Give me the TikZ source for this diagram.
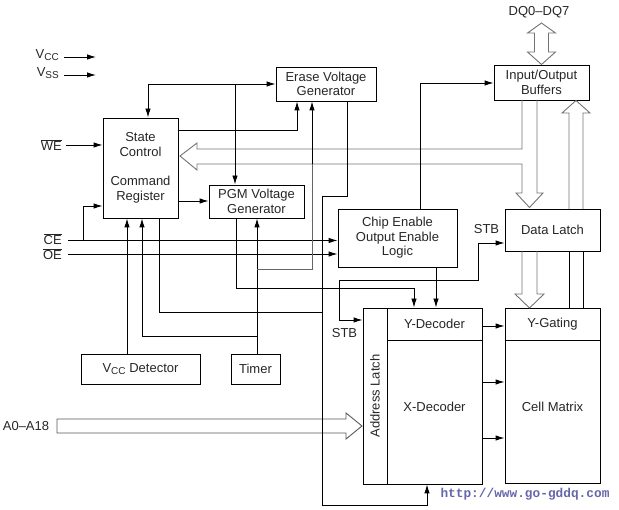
\documentclass[tikz,border=0pt]{standalone}
\usepackage{fontspec}
\setmainfont{Liberation Sans}
\newfontfamily\wmfont{Liberation Mono}
\usetikzlibrary{arrows.meta}
\newcommand{\mysub}[1]{\raisebox{-2.6pt}{\fontsize{10}{10}\selectfont #1}}
\begin{document}
\begin{tikzpicture}[x=1pt,y=-1pt,
  font=\fontsize{13}{14.5}\selectfont,
  box/.style={draw, line width=0.9pt, inner sep=0pt, align=center, text=black!85},
  arr/.style={-{Latex[length=9pt,width=5.5pt]}, line width=0.9pt},
  darr/.style={{Latex[length=9pt,width=5.5pt]}-{Latex[length=9pt,width=5.5pt]}, line width=0.9pt},
  wire/.style={line width=0.9pt},
  bus/.style={draw=black!55, line width=0.9pt},
  lab/.style={inner sep=0pt, text=black!85}]
\useasboundingbox (0,0) rectangle (619,510);

% ---------- boxes ----------
\node[box, minimum width=75pt, minimum height=100pt] (sc) at (140.5,168) {State\\Control\\[15pt]Command\\Register};
\node[box, minimum width=100pt, minimum height=34pt] (erase) at (326,84) {Erase Voltage\\Generator};
\node[box, minimum width=95pt, minimum height=33pt] (pgm) at (256.5,201.5) {PGM Voltage\\Generator};
\node[box, minimum width=119pt, minimum height=58pt] (ce) at (397.5,238) {Chip Enable\\Output Enable\\Logic};
\node[box, minimum width=95pt, minimum height=35pt] (io) at (541.5,82.5) {Input/Output\\Buffers};
\node[box, minimum width=95pt, minimum height=42pt] (dl) at (552.5,230) {Data Latch};
\node[box, minimum width=95pt, minimum height=32pt] (ygate) at (552.5,324) {Y-Gating};
\node[box, minimum width=95pt, minimum height=143pt,
      label={[yshift=4.5pt, text=black!85]center:Cell Matrix}] (cellm) at (552.5,411.5) {};
\node[box, minimum width=24pt, minimum height=176pt,
      label={[rotate=90, text=black!85]center:Address Latch}] (alatch) at (375,396) {};
\node[box, minimum width=95pt, minimum height=32pt] (ydec) at (434.5,324) {Y-Decoder};
\node[box, minimum width=95pt, minimum height=144pt,
      label={[yshift=5pt, text=black!85]center:X-Decoder}] (xdec) at (434.5,412) {};
\node[box, minimum width=119pt, minimum height=30pt] (vccd) at (140.5,369) {V\mysub{CC} Detector};
\node[box, minimum width=49pt, minimum height=30pt] (timer) at (255.5,369) {Timer};

% ---------- labels ----------
\node[lab, anchor=east] (vcc) at (59,55) {V\mysub{CC}};
\node[lab, anchor=east] (vss) at (59,73) {V\mysub{SS}};
\node[lab, anchor=east] (we) at (62,145) {$\overline{\mbox{WE}}$};
\node[lab, anchor=east] (cel) at (62,239) {$\overline{\mbox{CE}}$};
\node[lab, anchor=east] (oel) at (62,254) {$\overline{\mbox{OE}}$};
\node[lab] (dq) at (539,12) {DQ0--DQ7};
\node[lab] (a018) at (26,426) {A0--A18};
\node[lab] (stb1) at (486.5,229) {STB};
\node[lab] (stb2) at (344.5,333) {STB};
\node[lab, text=black!55!blue!60, font=\wmfont\bfseries\fontsize{12.8}{14}\selectfont] (wm) at (525,494) {http://www.go-gddq.com};

% ---------- coordinates ----------
\coordinate (vcce) at (96,57);
\coordinate (vsse) at (96,75);
\coordinate (j1) at (148,84);
\coordinate (j2) at (235,84);
\coordinate (j3) at (297,130);
\coordinate (j4) at (190,201);
\coordinate (j5) at (127,300);
\coordinate (j6) at (257,336);
\coordinate (j7) at (142,336);
\coordinate (j8) at (257,269);
\coordinate (j9) at (312,269);
\coordinate (j9b) at (312,164);
\coordinate (j10) at (159,312);
\coordinate (j11) at (322,312);
\coordinate (j12) at (347,196);
\coordinate (j13) at (322,196);
\coordinate (j14) at (322,505);
\coordinate (j15) at (427,505);
\coordinate (j16) at (236,288);
\coordinate (j17) at (414,288);
\coordinate (j18) at (436,290);
\coordinate (j19) at (420,83);
\coordinate (j20) at (339,280);
\coordinate (j21) at (478,280);
\coordinate (j22) at (478,243);
\coordinate (j23) at (339,320);
\coordinate (j24) at (490,326);
\coordinate (j25) at (490,382);
\coordinate (j26) at (490,438);
\coordinate (cein) at (68,240.5);
\coordinate (oein) at (68,254);
\coordinate (j27) at (83,240.5);
\coordinate (j28) at (83,206);

% ---------- hollow buses ----------
\draw[bus] (522,100) -- (522,149) -- (197,149) -- (197,143) -- (180,156) -- (197,170) -- (197,164)
  -- (522,164) -- (522,193) -- (516,193) -- (529.5,207.5) -- (543,193) -- (537,193) -- (537,100);
\draw[bus] (541.5,23) -- (555.5,33) -- (548.5,33) -- (548.5,52) -- (555.5,52) -- (541.5,64.5)
  -- (527.5,52) -- (534.5,52) -- (534.5,33) -- (527.5,33) -- cycle;
\draw[bus] (569,209) -- (569,113) -- (562,113) -- (576,100.5) -- (590,113) -- (583,113) -- (583,209);
\draw[wire] (569,251) -- (569,308) (583,251) -- (583,308);
\draw[bus] (522,251) -- (522,294) -- (515,294) -- (529.5,308) -- (544,294) -- (537,294) -- (537,251);
\draw[bus, draw=black!65] (57,419) -- (346,419) -- (346,413) -- (362,426) -- (346,439) -- (346,433) -- (57,433) -- cycle;

% ---------- wires ----------
\draw[arr] (vcc.east) ++(5,2) -- (vcce);
\draw[arr] (vss.east) ++(5,2) -- (vsse);
\draw[arr] (we.east) ++(4,0) -- (sc.west |- we);
\draw[arr] (cein) -- (ce.west |- cein);
\draw[arr] (oein) -- (ce.west |- oein);
\draw[arr] (j27) -- (j28) -- (sc.west |- j28);
\draw[darr] (sc.north -| j1) -- (j1) -- (erase.west |- j1);
\draw[arr] (j2) -- (pgm.north -| j2);
\draw[arr] (sc.east |- j3) -- (j3) -- (erase.south -| j3);
\draw[arr] (sc.east |- j4) -- (pgm.west |- j4);
\draw[arr] (vccd.north -| j5) -- (sc.south -| j5);
\draw[arr] (timer.north -| j6) -- (pgm.south -| j6);
\draw[arr] (j6) -- (j7) -- (sc.south -| j7);
\draw[wire, draw=black!60] (j8) -- (j9) -- (j9b);
\draw[arr] (j9b) -- (erase.south -| j9b);
\draw[wire] (sc.south -| j10) -- (j10) -- (j11);
\draw[arr] (erase.south -| j12) -- (j12) -- (j13) -- (j14) -- (j15) -- (xdec.south -| j15);
\draw[arr] (pgm.south -| j16) -- (j16) -- (j17) -- (ydec.north -| j17);
\draw[arr] (ce.south -| j18) -- (ydec.north -| j18);
\draw[arr] (ce.north -| j19) -- (j19) -- (io.west |- j19);
\draw[arr] (j20) -- (j21) -- (j22) -- (dl.west |- j22);
\draw[arr] (j20) -- (j23) -- (alatch.west |- j23);
\draw[arr] (ydec.east |- j24) -- (ygate.west |- j24);
\draw[arr] (xdec.east |- j25) -- (cellm.west |- j25);
\draw[arr] (xdec.east |- j26) -- (cellm.west |- j26);
\end{tikzpicture}
\end{document}
